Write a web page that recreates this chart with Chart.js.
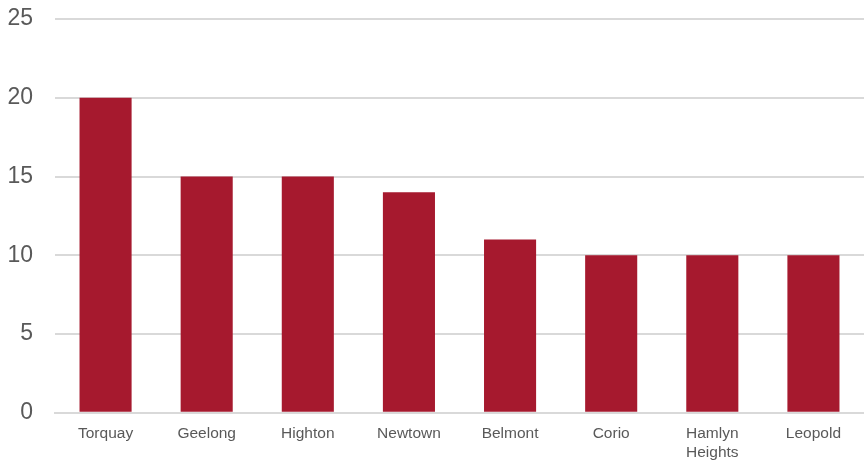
<!DOCTYPE html>
<html>
<head>
<meta charset="utf-8">
<script src="https://cdn.jsdelivr.net/npm/chart.js@4"></script>
<style>
  html, body { margin: 0; padding: 0; background: #fff; }
  #wrap { width: 864px; height: 460px; position: relative; }
</style>
</head>
<body>
<div id="wrap"><canvas id="grafica"></canvas></div>
<script>
const suburbs = ["Torquay", "Geelong", "Highton", "Newtown", "Belmont", "Corio", ["Hamlyn", "Heights"], "Leopold"];
const counts = [20, 15, 15, 14, 11, 10, 10, 10];
const yTicks = [0, 5, 10, 15, 20, 25];

const ctx = document.getElementById("grafica").getContext("2d");

new Chart(ctx, {
  type: "bar",
  data: {
    labels: suburbs,
    datasets: [{
      data: counts,
      backgroundColor: "#A6192E",
      barPercentage: 0.515,
      categoryPercentage: 1
    }]
  },
  options: {
    responsive: true,
    maintainAspectRatio: false,
    animation: false,
    layout: { padding: { top: 19, right: 0, left: 0, bottom: -14 } },
    plugins: { legend: { display: false }, tooltip: { enabled: false } },
    scales: {
      x: {
        grid: { display: false, drawTicks: false },
        border: { color: "#d9d9d9", width: 2 },
        ticks: {
          color: "#595959",
          font: { family: "Liberation Sans, Arial, sans-serif", size: 15.5, lineHeight: 1.2 },
          padding: 12,
          maxRotation: 0,
          autoSkip: false
        }
      },
      y: {
        min: 0,
        max: 25,
        afterBuildTicks: (axis) => { axis.ticks = yTicks.map(v => ({ value: v })); },
        afterFit: (axis) => { axis.width = 55; axis.paddingTop = 0; axis.paddingBottom = 0; },
        grid: { color: "#d9d9d9", lineWidth: 2, drawTicks: false },
        border: { display: false },
        ticks: {
          color: "#595959",
          font: { family: "Liberation Sans, Arial, sans-serif", size: 23, lineHeight: 0.4 },
          padding: 22
        }
      }
    }
  }
});
</script>
</body>
</html>
